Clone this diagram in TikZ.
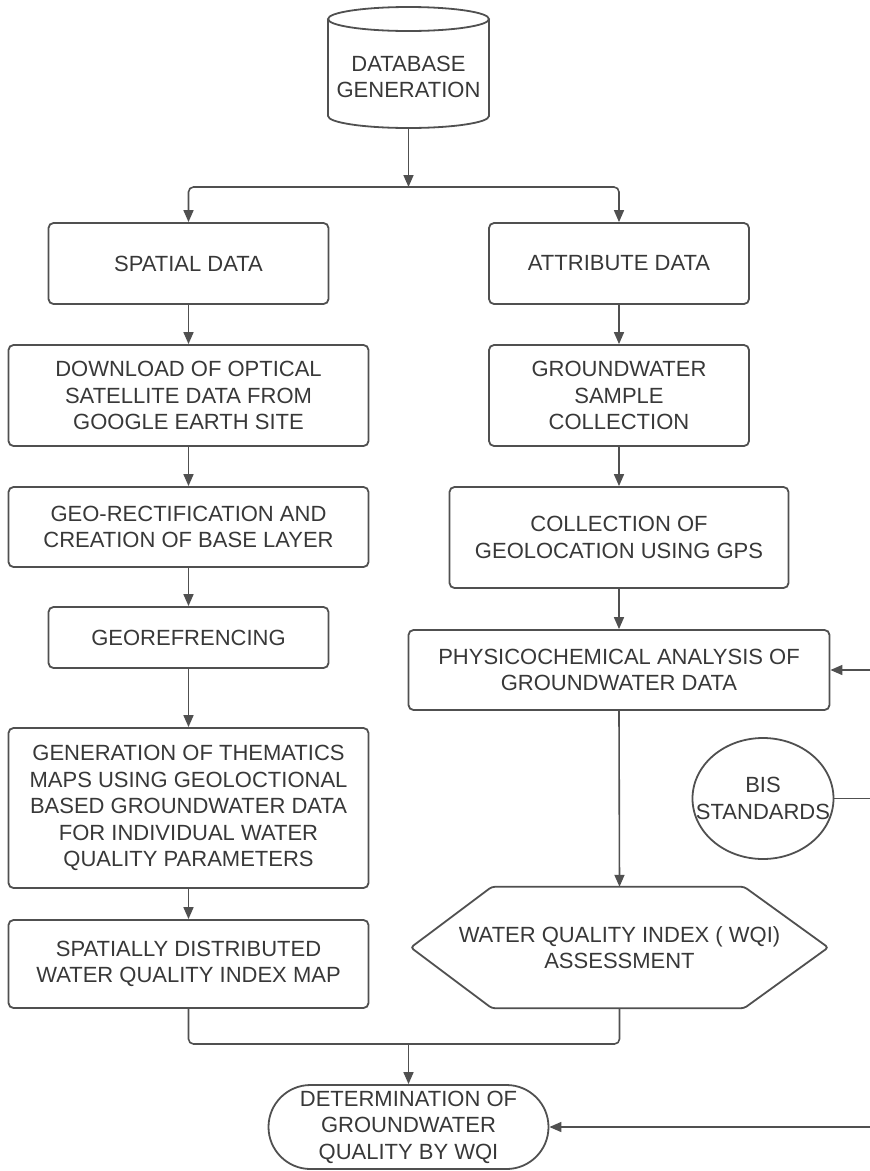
\documentclass[tikz,border=0pt]{standalone}
\usepackage{fontspec}
\setmainfont{Liberation Sans}
\usetikzlibrary{arrows.meta,shapes.geometric,calc}
\definecolor{lncol}{HTML}{505050}
\definecolor{txcol}{HTML}{383838}
\begin{document}
\begin{tikzpicture}[x=1pt,y=-1pt,
  every node/.style={font=\fontsize{22}{26.5}\selectfont, text=txcol, align=center, inner sep=0pt},
  box/.style={draw=lncol, line width=1.8pt, rounded corners=5pt},
  wire/.style={draw=lncol, line width=1.6pt},
  arr/.style={wire, -{Triangle[length=12pt,width=10pt]}},
  tip/.style={{Triangle[length=12pt,width=10pt]}-{Triangle[length=12pt,width=10pt]}}]
\useasboundingbox (0,0) rectangle (870,1171);

% cylinder
\node (db) at (408.5,77) [minimum width=161, minimum height=102] {DATABASE\\GENERATION};
\draw[wire, line width=1.8pt] (408.5,19) ellipse[x radius=80.5, y radius=12];
\draw[wire, line width=1.8pt] (328,19) -- (328,116) arc[start angle=180, end angle=0, x radius=80.5, y radius=12] -- (489,19);

% left column
\node[box, minimum width=280, minimum height=81] (spatial) at (188.5,263.5) {SPATIAL DATA};
\node[box, minimum width=360, minimum height=101] (download) at (188.5,395.5) {DOWNLOAD OF OPTICAL\\SATELLITE DATA FROM\\GOOGLE EARTH SITE};
\node[box, minimum width=360, minimum height=80] (georect) at (188.5,527) {GEO-RECTIFICATION AND\\CREATION OF BASE LAYER};
\node[box, minimum width=280, minimum height=61] (georef) at (188.5,637.5) {GEOREFRENCING};
\node[box, minimum width=360, minimum height=160] (generation) at (188.5,808) {GENERATION OF THEMATICS\\MAPS USING GEOLOCTIONAL\\BASED GROUNDWATER DATA\\FOR INDIVIDUAL WATER\\QUALITY PARAMETERS};
\node[box, minimum width=360, minimum height=88] (sdist) at (188.5,964) {SPATIALLY DISTRIBUTED\\WATER QUALITY INDEX MAP};

% right column
\node[box, minimum width=260, minimum height=81] (attr) at (619,263.5) {ATTRIBUTE DATA};
\node[box, minimum width=260, minimum height=101] (gsample) at (619,395.5) {GROUNDWATER\\SAMPLE\\COLLECTION};
\node[box, minimum width=339, minimum height=101] (geoloc) at (619,537.5) {COLLECTION OF\\GEOLOCATION USING GPS};
\node[box, minimum width=421, minimum height=80] (physico) at (619,670) {PHYSICOCHEMICAL ANALYSIS OF\\GROUNDWATER DATA};
\node[minimum width=141, minimum height=121] (bis) at (763,798.5) {BIS\\STANDARDS};
\draw[wire, line width=1.8pt] (bis.center) ellipse[x radius=70.5, y radius=60.5];
\node[minimum width=417, minimum height=121] (wqi) at (619.5,947.5) {WATER QUALITY INDEX ( WQI)\\ASSESSMENT};
\draw[wire, line width=1.8pt, rounded corners=3pt] (wqi.west) -- ($(wqi.north west)+(81,0)$) -- ($(wqi.north east)+(-84,0)$) -- (wqi.east) -- ($(wqi.south east)+(-84,0)$) -- ($(wqi.south west)+(81,0)$) -- cycle;

% final
\node[draw=lncol, line width=1.8pt, rounded corners=42pt, minimum width=280, minimum height=84] (det) at (408.5,1127) {DETERMINATION OF\\GROUNDWATER\\QUALITY BY WQI};

% coordinates
\coordinate (split) at (408.5,187);
\coordinate (merge) at (408.5,1044);
\coordinate (e1) at (870,670);
\coordinate (e2) at (870,798.5);
\coordinate (e3) at (870,1127);

% connectors
\draw[arr] (db.south) -- (split);
\draw[wire, tip, rounded corners=5pt] (spatial.north) -- (spatial.north |- split) -- (attr.north |- split) -- (attr.north);
\draw[arr] (spatial.south) -- (download.north);
\draw[arr] (download.south) -- (georect.north);
\draw[arr] (georect.south) -- (georef.north);
\draw[arr] (georef.south) -- (generation.north);
\draw[arr] (generation.south) -- (sdist.north);
\draw[arr] (attr.south) -- (gsample.north);
\draw[arr] (gsample.south) -- (geoloc.north);
\draw[arr] (geoloc.south) -- (physico.north);
\draw[arr] (physico.south) -- (wqi.north);
\draw[wire, rounded corners=5pt] (sdist.south) -- (sdist.south |- merge) -- (wqi.south |- merge) -- (wqi.south);
\draw[arr] (merge) -- (det.north);
\draw[arr] (e1) -- (physico.east);
\draw[wire] (bis.east) -- (e2);
\draw[arr] (e3) -- (det.east);
\end{tikzpicture}
\end{document}
